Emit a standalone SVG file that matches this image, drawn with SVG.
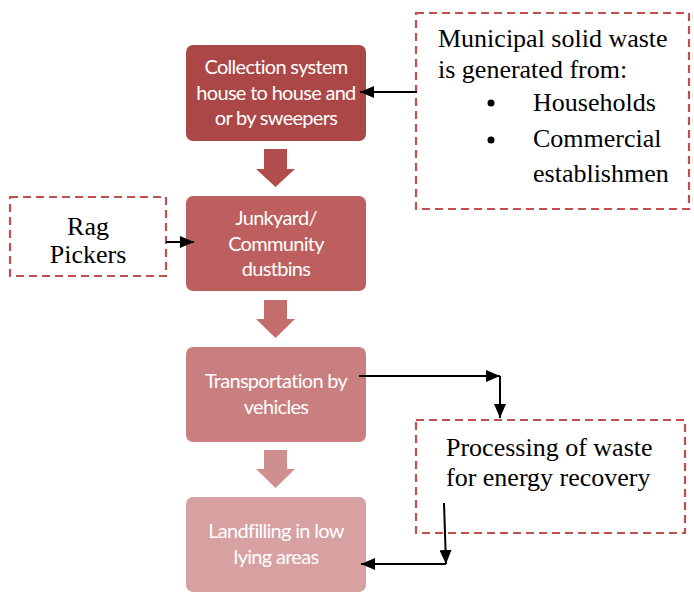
<svg xmlns="http://www.w3.org/2000/svg" width="694" height="593" viewBox="0 0 694 593">
<defs>
<style>
.box text{font-family:Lato,"Open Sans","Liberation Sans",sans-serif;font-size:20px;fill:#fff;text-anchor:middle;letter-spacing:-0.7px}
.note rect{fill:none;stroke:#c0504d;stroke-width:2.2;stroke-dasharray:8,5}
.note text{font-family:"Liberation Serif","Times New Roman",serif;font-size:26px;fill:#000}
.conn{stroke:#000;stroke-width:2;fill:none}
</style>
<marker id="ah" viewBox="0 0 14 12" refX="14" refY="6" markerWidth="14" markerHeight="12" markerUnits="userSpaceOnUse" orient="auto">
<path d="M0,0 L14,6 L0,12 Z" fill="#000"/>
</marker>
</defs>
<rect width="694" height="593" fill="#fff"/>

<g id="box1" class="box">
<rect x="186" y="45" width="180" height="96" rx="7" fill="#ab4747"/>
<text x="276" y="74">Collection system</text>
<text x="276" y="100">house to house and</text>
<text x="276" y="125">or by sweepers</text>
</g>
<g id="blockarrow1"><path d="M264,149 H287 V169 H295 L275.5,187 L256,169 H264 Z" fill="#b24d4d"/></g>

<g id="box2" class="box">
<rect x="186" y="196" width="180" height="95" rx="7" fill="#bd5f5f"/>
<text x="276" y="225">Junkyard/</text>
<text x="276" y="251">Community</text>
<text x="276" y="276">dustbins</text>
</g>
<g id="blockarrow2"><path d="M264,300 H287 V319 H295 L275.5,338 L256,319 H264 Z" fill="#c46d6d"/></g>

<g id="box3" class="box">
<rect x="186" y="347" width="180" height="95" rx="7" fill="#c97f7f"/>
<text x="276" y="388">Transportation by</text>
<text x="276" y="414">vehicles</text>
</g>
<g id="blockarrow3"><path d="M264,450 H287 V469 H295 L275.5,488 L256,469 H264 Z" fill="#cf8f8f"/></g>

<g id="box4" class="box">
<rect x="186" y="497" width="180" height="95" rx="7" fill="#d7a1a1"/>
<text x="276" y="538">Landfilling in low</text>
<text x="276" y="564">lying areas</text>
</g>

<g id="municipal" class="note">
<rect x="416" y="13" width="273" height="196"/>
<text x="438" y="47">Municipal solid waste</text>
<text x="438" y="78">is generated from:</text>
<circle cx="491" cy="103" r="3.5" fill="#000"/>
<text x="533" y="111">Households</text>
<circle cx="491" cy="140" r="3.5" fill="#000"/>
<text x="533" y="147">Commercial</text>
<text x="533" y="182">establishmen</text>
</g>

<g id="ragpickers" class="note">
<rect x="10" y="197" width="156" height="79"/>
<text x="88" y="235" text-anchor="middle">Rag</text>
<text x="88" y="263" text-anchor="middle">Pickers</text>
</g>

<g id="processing" class="note">
<rect x="416" y="420" width="269" height="113"/>
<text x="446" y="456">Processing of waste</text>
<text x="446" y="486">for energy recovery</text>
</g>

<g id="connectors">
<line class="conn" x1="417" y1="92" x2="360" y2="92" marker-end="url(#ah)"/>
<line class="conn" x1="166" y1="242" x2="194" y2="242" marker-end="url(#ah)"/>
<line class="conn" x1="359" y1="376" x2="500" y2="376" marker-end="url(#ah)"/>
<line class="conn" x1="500" y1="376" x2="500" y2="418" marker-end="url(#ah)"/>
<line class="conn" x1="444" y1="503" x2="446" y2="564" marker-end="url(#ah)"/>
<line class="conn" x1="446" y1="564" x2="361" y2="564" marker-end="url(#ah)"/>
</g>
</svg>
